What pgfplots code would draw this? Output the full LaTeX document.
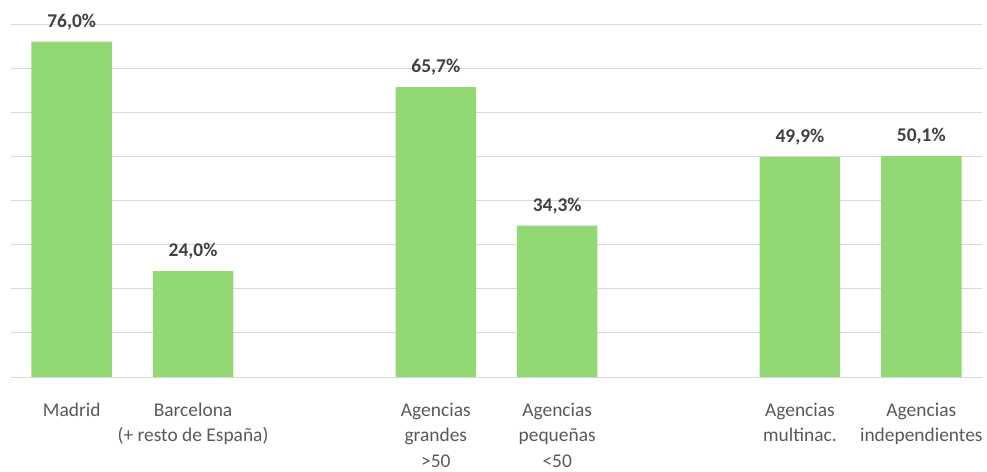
\documentclass[border=0pt]{standalone}
\usepackage{fontspec}
\setmainfont{Carlito}
\usepackage{pgfplots}
\pgfplotsset{compat=1.18}
\definecolor{barg}{RGB}{146,216,115}
\definecolor{gridc}{RGB}{217,217,217}
\definecolor{lab}{RGB}{89,89,89}
\definecolor{val}{RGB}{64,64,64}
\begin{document}
\begin{tikzpicture}
\begin{axis}[
  scale only axis, width=971bp, height=353bp,
  xmin=-0.5, xmax=7.5, ymin=0, ymax=80,
  axis x line*=bottom, axis y line*=left,
  x axis line style={gridc, line width=0.9bp},
  y axis line style={draw=none},
  ytick={10,20,...,80}, yticklabels={},
  ymajorgrids, major grid style={gridc, line width=0.9bp},
  ytick style={draw=none},
  xtick={0,1,3,4,6,7},
  xticklabels={{\strut Madrid},{\strut Barcelona\\(+ resto de España)},{\strut Agencias\\grandes\\>50},{\strut Agencias\\pequeñas\\<50},{\strut Agencias\\multinac.},{\strut Agencias\\independientes}},
  xtick style={draw=none},
  xticklabel style={align=center, font=\fontsize{19.5}{25.5}\selectfont, text=lab, inner sep=0pt, anchor=north, yshift=-17bp},
  ybar, bar width=80.5bp,
  point meta=explicit symbolic,
  nodes near coords,
  every node near coord/.append style={font=\bfseries\fontsize{19.5}{23}\selectfont, text=val, anchor=base, inner sep=0pt, yshift=14.5bp},
  clip=false,
]
\addplot[fill=barg, draw=none] coordinates {
  (0,76.0) [76,0\%]
  (1,24.0) [24,0\%]
  (3,65.7) [65,7\%]
  (4,34.3) [34,3\%]
  (6,49.9) [49,9\%]
  (7,50.1) [50,1\%]
};
\coordinate (SW) at (rel axis cs:0,0);
\coordinate (NE) at (rel axis cs:1,1);
\end{axis}
\pgfresetboundingbox
\path[use as bounding box] ([shift={(-11bp,-94bp)}]SW) rectangle ([shift={(5bp,24bp)}]NE);
\end{tikzpicture}
\end{document}
